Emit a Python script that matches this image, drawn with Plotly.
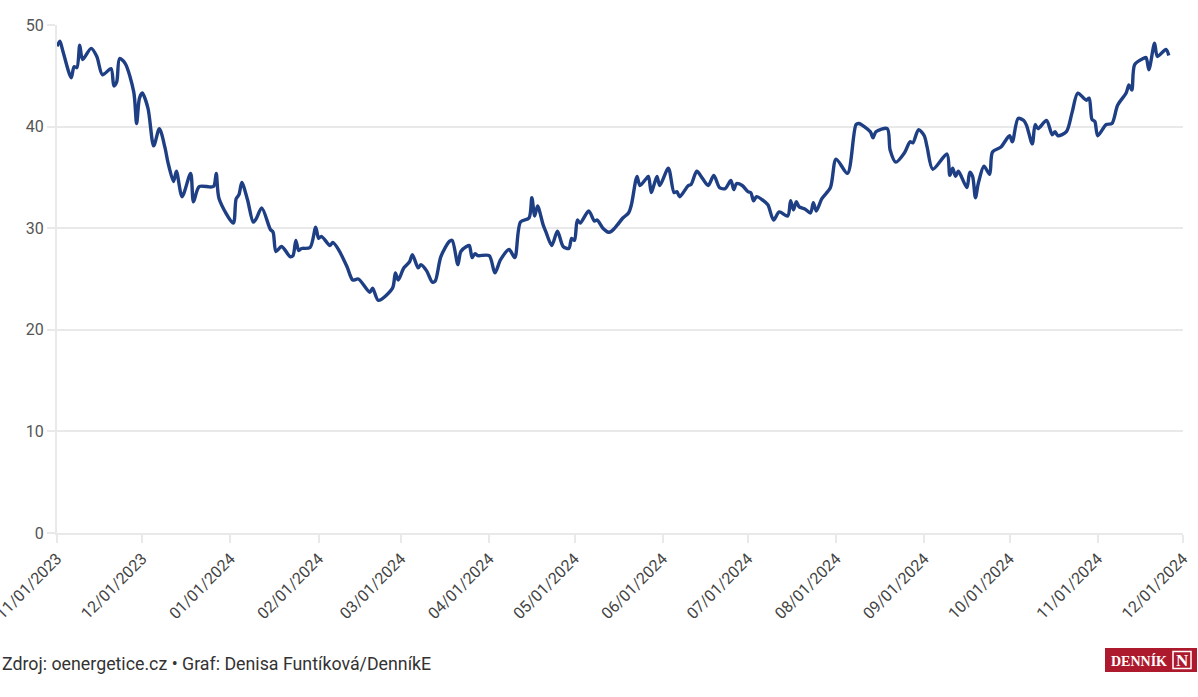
import plotly.graph_objects as go

dates = [
    "2023-11-01", "2023-11-02", "2023-11-03", "2023-11-06", "2023-11-07", "2023-11-08", "2023-11-09", "2023-11-10",
    "2023-11-13", "2023-11-15", "2023-11-17", "2023-11-20", "2023-11-21", "2023-11-22", "2023-11-23", "2023-11-25",
    "2023-11-28", "2023-11-29", "2023-11-30", "2023-12-01", "2023-12-03", "2023-12-05", "2023-12-07", "2023-12-09",
    "2023-12-10", "2023-12-12", "2023-12-13", "2023-12-15", "2023-12-18", "2023-12-19", "2023-12-21", "2023-12-26",
    "2023-12-27", "2023-12-28", "2024-01-02", "2024-01-03", "2024-01-04", "2024-01-05", "2024-01-07", "2024-01-09",
    "2024-01-10", "2024-01-12", "2024-01-15", "2024-01-16", "2024-01-17", "2024-01-19", "2024-01-22", "2024-01-23",
    "2024-01-24", "2024-01-25", "2024-01-26", "2024-01-29", "2024-01-31", "2024-02-01", "2024-02-02", "2024-02-05",
    "2024-02-06", "2024-02-08", "2024-02-11", "2024-02-13", "2024-02-15", "2024-02-19", "2024-02-20", "2024-02-22",
    "2024-02-27", "2024-02-28", "2024-02-29", "2024-03-02", "2024-03-04", "2024-03-05", "2024-03-07", "2024-03-08",
    "2024-03-10", "2024-03-12", "2024-03-13", "2024-03-15", "2024-03-18", "2024-03-19", "2024-03-21", "2024-03-22",
    "2024-03-24", "2024-03-25", "2024-03-26", "2024-03-27", "2024-03-28", "2024-04-01", "2024-04-03", "2024-04-05",
    "2024-04-08", "2024-04-10", "2024-04-12", "2024-04-15", "2024-04-16", "2024-04-17", "2024-04-18", "2024-04-20",
    "2024-04-21", "2024-04-23", "2024-04-25", "2024-04-27", "2024-04-29", "2024-04-30", "2024-05-01", "2024-05-02",
    "2024-05-03", "2024-05-06", "2024-05-08", "2024-05-09", "2024-05-11", "2024-05-13", "2024-05-14", "2024-05-16",
    "2024-05-18", "2024-05-20", "2024-05-21", "2024-05-23", "2024-05-24", "2024-05-26", "2024-05-27", "2024-05-28",
    "2024-05-29", "2024-05-30", "2024-05-31", "2024-06-03", "2024-06-05", "2024-06-06", "2024-06-07", "2024-06-10",
    "2024-06-11", "2024-06-13", "2024-06-15", "2024-06-17", "2024-06-19", "2024-06-21", "2024-06-23", "2024-06-25",
    "2024-06-26", "2024-06-27", "2024-06-29", "2024-07-01", "2024-07-02", "2024-07-03", "2024-07-04", "2024-07-06",
    "2024-07-08", "2024-07-10", "2024-07-12", "2024-07-15", "2024-07-16", "2024-07-17", "2024-07-18", "2024-07-19",
    "2024-07-21", "2024-07-23", "2024-07-24", "2024-07-25", "2024-07-27", "2024-07-30", "2024-08-01", "2024-08-05",
    "2024-08-08", "2024-08-09", "2024-08-13", "2024-08-14", "2024-08-15", "2024-08-19", "2024-08-20", "2024-08-22",
    "2024-08-25", "2024-08-27", "2024-08-28", "2024-08-30", "2024-09-01", "2024-09-02", "2024-09-04", "2024-09-09",
    "2024-09-10", "2024-09-11", "2024-09-12", "2024-09-13", "2024-09-16", "2024-09-17", "2024-09-18", "2024-09-19",
    "2024-09-20", "2024-09-22", "2024-09-24", "2024-09-25", "2024-09-28", "2024-10-01", "2024-10-02", "2024-10-04",
    "2024-10-06", "2024-10-07", "2024-10-09", "2024-10-10", "2024-10-11", "2024-10-14", "2024-10-16", "2024-10-17",
    "2024-10-18", "2024-10-21", "2024-10-23", "2024-10-25", "2024-10-28", "2024-10-29", "2024-10-30", "2024-10-31",
    "2024-11-01", "2024-11-04", "2024-11-06", "2024-11-08", "2024-11-11", "2024-11-12", "2024-11-13", "2024-11-14",
    "2024-11-17", "2024-11-18", "2024-11-19", "2024-11-21", "2024-11-22", "2024-11-25", "2024-11-26",
]

values = [
    47.9, 48.4, 47.5, 44.8, 45.9, 45.8, 48.0, 46.6,
    47.7, 46.9, 45.1, 45.7, 44.0, 44.4, 46.7, 46.2,
    43.4, 40.3, 42.8, 43.3, 41.8, 38.1, 39.8, 37.9,
    36.5, 34.6, 35.6, 33.1, 35.4, 32.6, 34.1, 34.1,
    35.4, 32.9, 30.5, 32.9, 33.3, 34.5, 32.8, 30.6,
    30.9, 32.0, 29.9, 29.6, 27.7, 28.2, 27.2, 27.3,
    28.8, 27.8, 28.0, 28.1, 30.1, 29.0, 29.2, 28.3,
    28.6, 27.9, 26.2, 24.9, 25.0, 23.7, 24.1, 22.9,
    24.1, 25.6, 24.9, 26.1, 26.7, 27.4, 26.1, 26.4,
    25.8, 24.7, 24.8, 27.2, 28.7, 28.8, 26.4, 27.7,
    28.2, 28.3, 27.1, 27.5, 27.3, 27.3, 25.6, 26.9,
    27.9, 27.1, 30.6, 31.0, 33.0, 31.2, 32.2, 30.3,
    29.6, 28.3, 29.7, 28.2, 28.0, 29.0, 28.8, 30.8,
    30.5, 31.7, 30.7, 30.8, 30.0, 29.6, 29.7, 30.3,
    31.0, 31.5, 32.3, 35.1, 34.2, 34.8, 35.1, 33.5,
    34.3, 35.1, 34.2, 35.9, 33.5, 33.6, 33.1, 34.2,
    34.3, 35.6, 34.9, 34.2, 35.2, 34.0, 33.9, 34.7,
    33.8, 34.4, 34.2, 33.6, 33.5, 32.7, 33.1, 32.8,
    32.3, 30.8, 31.6, 31.2, 32.7, 31.8, 32.6, 32.1,
    31.9, 31.5, 32.5, 31.7, 32.9, 34.0, 36.8, 35.4,
    40.2, 40.3, 39.5, 38.9, 39.5, 39.8, 37.7, 36.5,
    37.4, 38.5, 38.4, 39.7, 39.1, 38.0, 35.8, 37.3,
    35.2, 35.9, 35.1, 35.6, 34.0, 35.5, 35.1, 33.0,
    34.4, 36.1, 35.3, 37.5, 38.0, 39.1, 38.5, 40.8,
    40.6, 40.1, 38.3, 40.2, 39.8, 40.6, 39.2, 39.5,
    39.1, 39.5, 41.4, 43.3, 42.6, 42.8, 40.7, 40.5,
    39.1, 40.2, 40.3, 42.1, 43.3, 44.1, 43.6, 46.1,
    46.7, 46.8, 45.6, 48.2, 46.9, 47.6, 47.0,
]

x_ticks = ["2023-11-01", "2023-12-01", "2024-01-01", "2024-02-01", "2024-03-01", "2024-04-01", "2024-05-01",
           "2024-06-01", "2024-07-01", "2024-08-01", "2024-09-01", "2024-10-01", "2024-11-01", "2024-12-01"]
x_tick_labels = ["11/01/2023", "12/01/2023", "01/01/2024", "02/01/2024", "03/01/2024", "04/01/2024", "05/01/2024",
                 "06/01/2024", "07/01/2024", "08/01/2024", "09/01/2024", "10/01/2024", "11/01/2024", "12/01/2024"]
y_ticks = [0, 10, 20, 30, 40, 50]

source_text = "Zdroj: oenergetice.cz • Graf: Denisa Funtíková/DenníkE"
logo_text = "DENNÍK"
logo_letter = "N"

FONT = "Roboto"
GRID = "#e9e9e9"

# plot area in pixels (for placing footer items in paper coords)
L, R, T, B = 57, 1183, 25, 533
W, H = R - L, B - T


def px(x):
    return (x - L) / W


def py(y):
    return (B - y) / H


fig = go.Figure()
fig.add_trace(go.Scatter(
    x=dates, y=values, mode="lines",
    line=dict(color="#1f3f85", width=3.4, shape="spline", smoothing=0.8),
    hoverinfo="x+y", showlegend=False,
))

fig.update_layout(
    width=1198, height=697,
    margin=dict(l=L, r=1198 - R, t=T, b=697 - B, autoexpand=False),
    paper_bgcolor="white", plot_bgcolor="white",
    font=dict(family=FONT, color="#444", size=15),
    xaxis=dict(
        range=["2023-11-01", "2024-12-01"], automargin=False,
        tickvals=x_ticks, ticktext=x_tick_labels, tickangle=-45,
        ticklabeloverflow="allow",
        showgrid=False, zeroline=False,
        showline=True, linecolor=GRID, linewidth=2,
        ticks="outside", ticklen=8, tickcolor=GRID, tickwidth=2,
        tickfont=dict(family=FONT, size=16, color="#444"),
    ),
    yaxis=dict(
        range=[0, 50], tickvals=y_ticks, automargin=False,
        showgrid=True, gridcolor=GRID, gridwidth=2, zeroline=False,
        showline=True, linecolor=GRID, linewidth=2,
        ticks="outside", ticklen=8, tickcolor=GRID, tickwidth=2,
        tickfont=dict(family=FONT, size=16, color="#555"),
    ),
    shapes=[
        dict(type="rect", xref="paper", yref="paper",
             x0=px(1105), x1=px(1197), y0=py(672), y1=py(648),
             fillcolor="#ad1a2d", line=dict(width=0), layer="above"),
        dict(type="rect", xref="paper", yref="paper",
             x0=px(1173), x1=px(1191), y0=py(668.5), y1=py(651.5),
             fillcolor="rgba(0,0,0,0)", line=dict(color="white", width=1.5), layer="above"),
    ],
    annotations=[
        dict(text=source_text, xref="paper", yref="paper",
             x=px(0), y=py(663), xanchor="left", yanchor="middle",
             showarrow=False, font=dict(family=FONT, size=17.8, color="#333")),
        dict(text="<b>" + logo_text + "</b>", xref="paper", yref="paper",
             x=px(1139), y=py(660.5), xanchor="center", yanchor="middle",
             showarrow=False, font=dict(family="Liberation Serif", size=14, color="white")),
        dict(text="<b>" + logo_letter + "</b>", xref="paper", yref="paper",
             x=px(1182), y=py(660), xanchor="center", yanchor="middle",
             showarrow=False, font=dict(family="Liberation Serif", size=17, color="white")),
    ],
)

fig.write_html("out.html", config={"displayModeBar": False},
               post_script="document.body.style.margin='0px';")
